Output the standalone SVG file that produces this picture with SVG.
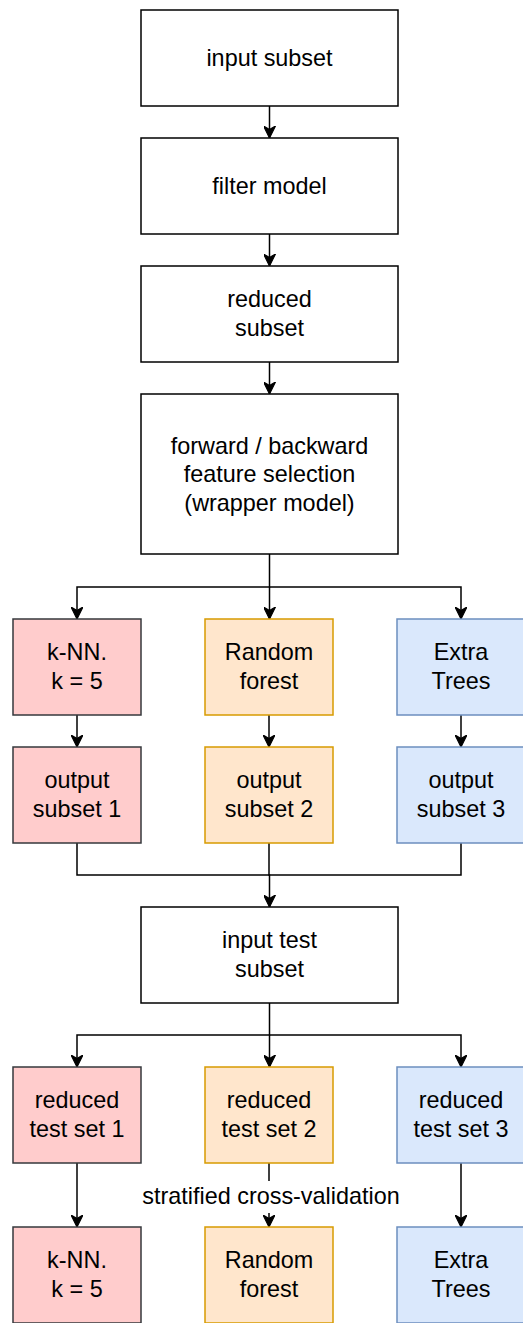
<svg xmlns="http://www.w3.org/2000/svg" width="523" height="1323" viewBox="0 0 523 1323">
<style>
.b{fill:#fff;stroke:#000;stroke-width:1.5}
.r{fill:#ffcccc;stroke:#36393d;stroke-width:1.5}
.o{fill:#ffe6cc;stroke:#d79b00;stroke-width:1.5}
.u{fill:#dae8fc;stroke:#6c8ebf;stroke-width:1.5}
text{font-family:"Liberation Sans",Arial,sans-serif;font-size:23.4px;fill:#000;text-anchor:middle}
.c{fill:none;stroke:#000;stroke-width:1.5}
</style>
<defs>
<marker id="a" markerUnits="userSpaceOnUse" markerWidth="12" markerHeight="12" refX="10" refY="5" orient="auto" viewBox="0 0 10 10">
<path d="M0,0 L10,5 L0,10 L3,5 z" fill="#000" stroke="#000" stroke-width="1"/>
</marker>
</defs>
<rect width="523" height="1323" fill="#fff"/>
<g id="connectors">
<path class="c" d="M269.5,106 V138" marker-end="url(#a)"/>
<path class="c" d="M269.5,234 V266" marker-end="url(#a)"/>
<path class="c" d="M269.5,362 V394" marker-end="url(#a)"/>
<path class="c" d="M269.5,554 V587 H77 V619" marker-end="url(#a)"/>
<path class="c" d="M269.5,587 V619" marker-end="url(#a)"/>
<path class="c" d="M269.5,587 H461 V619" marker-end="url(#a)"/>
<path class="c" d="M77,715 V747" marker-end="url(#a)"/>
<path class="c" d="M269,715 V747" marker-end="url(#a)"/>
<path class="c" d="M461,715 V747" marker-end="url(#a)"/>
<path class="c" d="M77,843 V875 H269.5"/>
<path class="c" d="M461,843 V875 H269.5"/>
<path class="c" d="M269,843 V875 H269.5 V907" marker-end="url(#a)"/>
<path class="c" d="M269.5,1003 V1035 H77 V1067" marker-end="url(#a)"/>
<path class="c" d="M269.5,1035 V1067" marker-end="url(#a)"/>
<path class="c" d="M269.5,1035 H461 V1067" marker-end="url(#a)"/>
<path class="c" d="M77,1163 V1227" marker-end="url(#a)"/>
<path class="c" d="M269,1163 V1227" marker-end="url(#a)"/>
<path class="c" d="M461,1163 V1227" marker-end="url(#a)"/>
<rect x="142" y="1181" width="260" height="32" fill="#fff"/>
<text x="271" y="1204">stratified cross-validation</text>
</g>
<g id="n1"><rect class="b" x="141" y="10" width="257" height="96"/><text x="269.5" y="66">input subset</text></g>
<g id="n2"><rect class="b" x="141" y="138" width="257" height="96"/><text x="269.5" y="194">filter model</text></g>
<g id="n3"><rect class="b" x="141" y="266" width="257" height="96"/><text x="269.5" y="307">reduced</text><text x="269.5" y="336">subset</text></g>
<g id="n4"><rect class="b" x="141" y="394" width="257" height="160"/><text x="269.5" y="454">forward / backward</text><text x="269.5" y="482">feature selection</text><text x="269.5" y="511">(wrapper model)</text></g>
<g id="m1"><rect class="r" x="13" y="619" width="128" height="96"/><text x="77" y="660">k-NN.</text><text x="77" y="689">k = 5</text></g>
<g id="m2"><rect class="o" x="205" y="619" width="128" height="96"/><text x="269" y="660">Random</text><text x="269" y="689">forest</text></g>
<g id="m3"><rect class="u" x="397" y="619" width="128" height="96"/><text x="461" y="660">Extra</text><text x="461" y="689">Trees</text></g>
<g id="o1"><rect class="r" x="13" y="747" width="128" height="96"/><text x="77" y="788">output</text><text x="77" y="817">subset 1</text></g>
<g id="o2"><rect class="o" x="205" y="747" width="128" height="96"/><text x="269" y="788">output</text><text x="269" y="817">subset 2</text></g>
<g id="o3"><rect class="u" x="397" y="747" width="128" height="96"/><text x="461" y="788">output</text><text x="461" y="817">subset 3</text></g>
<g id="t"><rect class="b" x="141" y="907" width="257" height="96"/><text x="269.5" y="948">input test</text><text x="269.5" y="977">subset</text></g>
<g id="r1"><rect class="r" x="13" y="1067" width="128" height="96"/><text x="77" y="1108">reduced</text><text x="77" y="1137">test set 1</text></g>
<g id="r2"><rect class="o" x="205" y="1067" width="128" height="96"/><text x="269" y="1108">reduced</text><text x="269" y="1137">test set 2</text></g>
<g id="r3"><rect class="u" x="397" y="1067" width="128" height="96"/><text x="461" y="1108">reduced</text><text x="461" y="1137">test set 3</text></g>
<g id="f1"><rect class="r" x="13" y="1227" width="128" height="96"/><text x="77" y="1268">k-NN.</text><text x="77" y="1297">k = 5</text></g>
<g id="f2"><rect class="o" x="205" y="1227" width="128" height="96"/><text x="269" y="1268">Random</text><text x="269" y="1297">forest</text></g>
<g id="f3"><rect class="u" x="397" y="1227" width="128" height="96"/><text x="461" y="1268">Extra</text><text x="461" y="1297">Trees</text></g>
</svg>
